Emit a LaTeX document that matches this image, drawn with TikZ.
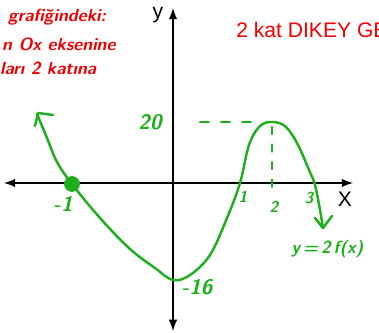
\documentclass[tikz,border=0pt]{standalone}
\usepackage{fontspec}
\newfontfamily\arial{Liberation Sans}
\usepackage{tikz}
\usetikzlibrary{calc}
\usetikzlibrary{arrows}
\definecolor{handgreen}{RGB}{30,175,30}
\definecolor{handred}{RGB}{240,0,0}
\tikzset{
	axis/.style={line width=1.2pt,-latex},
	pen/.style={handgreen,line width=1.4pt,line cap=round,line join=round},
	penlabel/.style={handgreen,font=\sffamily\bfseries\itshape\large,inner sep=0pt},
}
\begin{document}
\begin{tikzpicture}[x=0.02cm,y=-0.02cm]
		\useasboundingbox (0,0) rectangle (379,333);
		\clip (0,0) rectangle (379,333);
		
		% axes
		\coordinate (xl) at (4,183);
		\coordinate (xr) at (353,183);
		\coordinate (yt) at (173,8);
		\coordinate (yb) at (173,331);
		\draw [axis] (173,183) to (xl);
		\draw [axis] (173,183) to (xr);
		\draw [axis] (173,183) to (yt);
		\draw [axis] (173,183) to (yb);
		\node (ylab) at (158,15) {\arial\large y};
		\node (xlab) at (345,199) {\arial\large X};
		
		% red notes
		\node [handred,anchor=west,font=\sffamily\bfseries\itshape] (note1) at (2,17) {grafiğindeki:};
		\node [handred,anchor=west,font=\sffamily\bfseries\itshape] (note2) at (-4,44) {n Ox eksenine};
		\node [handred,anchor=west,font=\sffamily\bfseries\itshape] (note3) at (-6,68) {ları 2 katına};
		\node [handred,anchor=west,inner sep=0pt] (title) at (236,30) {\arial\large 2 kat DIKEY GE};
		
		% curve
		\draw [pen] plot [smooth,tension=0.6] coordinates {(37,114) (47,138) (57,162) (72,184) (100,218) (130,249) (155,268) (173,280) (190,275) (210,255) (227,218) (240,183) (249,145) (260,126) (273,122) (286,127) (298,145) (309,170) (315,185) (320,210) (323,228)};
		\draw [pen] (53,115) -- (38,113) -- (35,126);
		\draw [pen] (315,218) -- (323,228) -- (332,216);
		\node [circle,fill=handgreen,inner sep=0pt,minimum size=9pt] (root) at (72,184) {};
		
		% guide lines
		\draw [pen,dash pattern=on 5pt off 7pt] (200,122) to (263,122);
		\draw [pen,dash pattern=on 4pt off 6pt] (272,127) to (272,190);
		
		% labels
		\node [penlabel] (lab20) at (150,122) {20};
		\node [penlabel] (labm1) at (63,204) {-1};
		\node [penlabel] (labm16) at (197,287) {-16};
		\node [penlabel,font=\sffamily\bfseries\itshape\small] (lab1) at (243,197) {1};
		\node [penlabel,font=\sffamily\bfseries\itshape\small] (lab2) at (274,207) {2};
		\node [penlabel,font=\sffamily\bfseries\itshape\small] (lab3) at (309,198) {3};
		\node [penlabel,anchor=west,font=\sffamily\bfseries\itshape] (func) at (291,249) {y\,=\,2\,f(x)};
	\end{tikzpicture}
\end{document}
